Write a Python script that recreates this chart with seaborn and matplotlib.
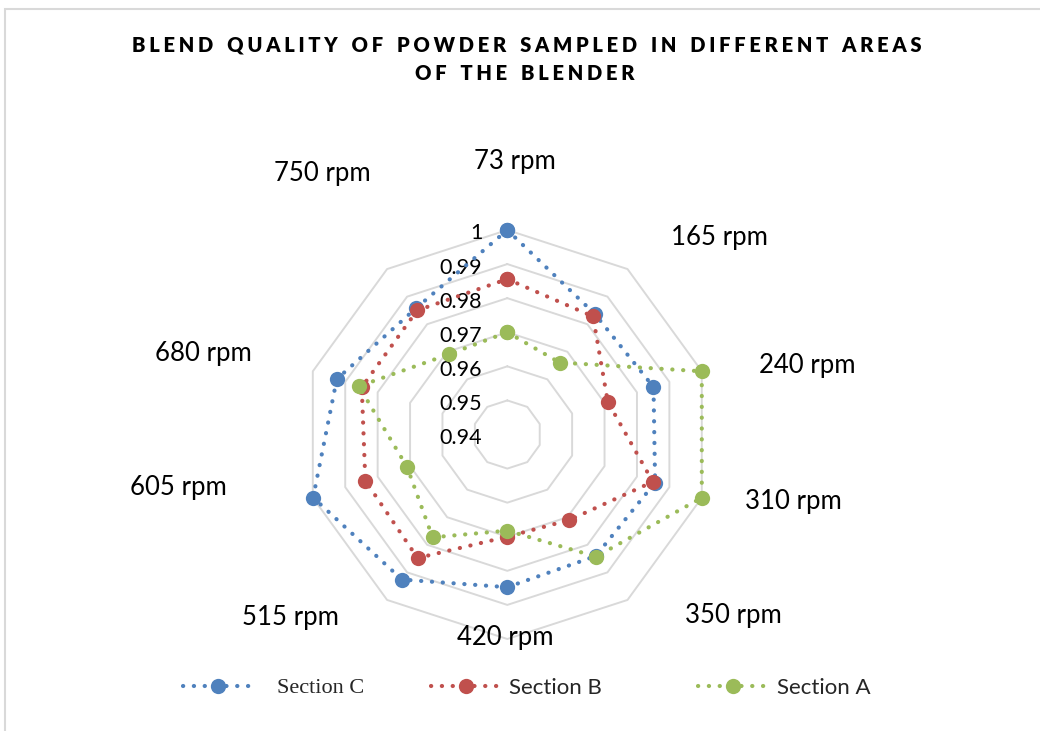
import numpy as np
import pandas as pd
import matplotlib
matplotlib.use("Agg")
import matplotlib.pyplot as plt
import seaborn as sns
from matplotlib.lines import Line2D
from matplotlib.patches import Rectangle

# ---------------- data ----------------
categories = ["73 rpm", "165 rpm", "240 rpm", "310 rpm", "350 rpm",
              "420 rpm", "515 rpm", "605 rpm", "680 rpm", "750 rpm"]
section_c = [1.0000, 0.9837, 0.9851, 0.9856, 0.9841, 0.9848, 0.9926, 0.9999, 0.9926, 0.9857]
section_b = [0.9856, 0.9828, 0.9710, 0.9849, 0.9710, 0.9700, 0.9848, 0.9838, 0.9849, 0.9850]
section_a = [0.9700, 0.9661, 1.0000, 1.0000, 0.9843, 0.9682, 0.9773, 0.9709, 0.9858, 0.9691]
series_names = ["Section C", "Section B", "Section A"]
radial_ticks = [0.94, 0.95, 0.96, 0.97, 0.98, 0.99, 1.00]
radial_tick_labels = ["0.94", "0.95", "0.96", "0.97", "0.98", "0.99", "1"]
title_lines = ["BLEND QUALITY OF POWDER SAMPLED IN DIFFERENT AREAS", "OF THE BLENDER"]

# ---------------- style ----------------
colors = {"Section C": "#4F81BD", "Section B": "#C0504D", "Section A": "#9BBB59"}
GRID = "#D9D9D9"
sns.set_theme(style="white")
plt.rcParams["font.family"] = ["Lato", "DejaVu Sans"]

W, H = 1040, 731
fig = plt.figure(figsize=(W / 100, H / 100), dpi=100)
fig.patch.set_facecolor("white")

# outer chart border (light grey)
fig.add_artist(Rectangle((4.5 / W, -0.1), 1.2, (H - 8.5) / H + 0.1,
                         transform=fig.transFigure, fill=False,
                         edgecolor=GRID, lw=1.5))

# polar axes placement (pixels)
cx, cy, R = 507.3, 434.5, 204.5
ax = fig.add_axes([(cx - R) / W, (H - cy - R) / H, 2 * R / W, 2 * R / H],
                  projection="polar")
ax.set_theta_offset(np.pi / 2)
ax.set_theta_direction(-1)
ax.grid(False)
ax.spines["polar"].set_visible(False)
ax.set_facecolor("none")

n = len(categories)
theta = np.linspace(0, 2 * np.pi, n, endpoint=False)
theta_closed = np.append(theta, theta[0])

# decagon gridlines
for r in radial_ticks[1:]:
    ax.plot(theta_closed, [r] * (n + 1), color=GRID, lw=1.4, zorder=1,
            clip_on=False)

# data frame (closed loops)
rows = []
for name, vals in zip(series_names, [section_c, section_b, section_a]):
    vv = list(vals) + [vals[0]]
    for i, (t, v) in enumerate(zip(theta_closed, vv)):
        rows.append({"series": name, "theta": t, "value": v, "order": i})
df = pd.DataFrame(rows)

LW = 3.0
MS = 11
dot_style = (0, (0.05, 2.55))
sns.lineplot(data=df, x="theta", y="value", hue="series", hue_order=series_names,
             palette=colors, sort=False, estimator=None, marker="o",
             markersize=MS, markeredgewidth=0, lw=LW, linestyle=dot_style,
             dash_capstyle="round", legend=False, ax=ax, zorder=3,
             clip_on=False)

ax.set_ylim(radial_ticks[0], radial_ticks[-1])
ax.set_xticks([])
ax.set_yticks([])
ax.set_xlabel("")
ax.set_ylabel("")

# radial tick labels to the left of the vertical axis
for r, lab in zip(radial_ticks, radial_tick_labels):
    ax.annotate(lab, xy=(0, r), xytext=(-18, -2.5), textcoords="offset points",
                ha="right", va="center", fontsize=15.5, color="black",
                annotation_clip=False, zorder=2)

# category labels (layout positions in pixels)
label_pos = [(515, 162), (719, 238), (807, 365), (793, 502), (733, 615),
             (505, 637), (290, 617), (178, 488), (203, 353), (322, 174)]
for lab, (px, py) in zip(categories, label_pos):
    fig.text(px / W, 1 - py / H, lab, ha="center", va="center",
             fontsize=18.5, color="black")

# title with letter spacing
def spaced(s):
    words = s.split(" ")
    return "\u2002\u2009\u200a".join("\u2009\u200a".join(list(w)) for w in words)

fig.text(527 / W, 1 - 45 / H, spaced(title_lines[0]), ha="center", va="center",
         fontsize=14.5, fontweight="heavy", color="black")
fig.text(525 / W, 1 - 73 / H, spaced(title_lines[1]), ha="center", va="center",
         fontsize=14.5, fontweight="heavy", color="black")

# legend: three entries placed separately
leg_font = 16
handle_px = 70
leg_left = [183, 431, 698]
leg_text_gap = [24, 8, 9]
for name, lx, gap in zip(series_names, leg_left, leg_text_gap):
    h = Line2D([], [], color=colors[name], lw=LW, linestyle=dot_style,
               dash_capstyle="round", marker="o", markersize=MS,
               markeredgewidth=0)
    leg = fig.legend([h], [name], loc="center left",
                     bbox_to_anchor=(lx / W, 1 - 688 / H),
                     frameon=False, fontsize=leg_font, borderpad=0,
                     borderaxespad=0,
                     handlelength=(handle_px * 0.72) / leg_font,
                     handletextpad=(gap * 0.72) / leg_font,
                     numpoints=1)
    if name == "Section C":
        leg.get_texts()[0].set_family(["Liberation Serif", "DejaVu Serif"])

fig.savefig("out.png", dpi=100, facecolor="white")
